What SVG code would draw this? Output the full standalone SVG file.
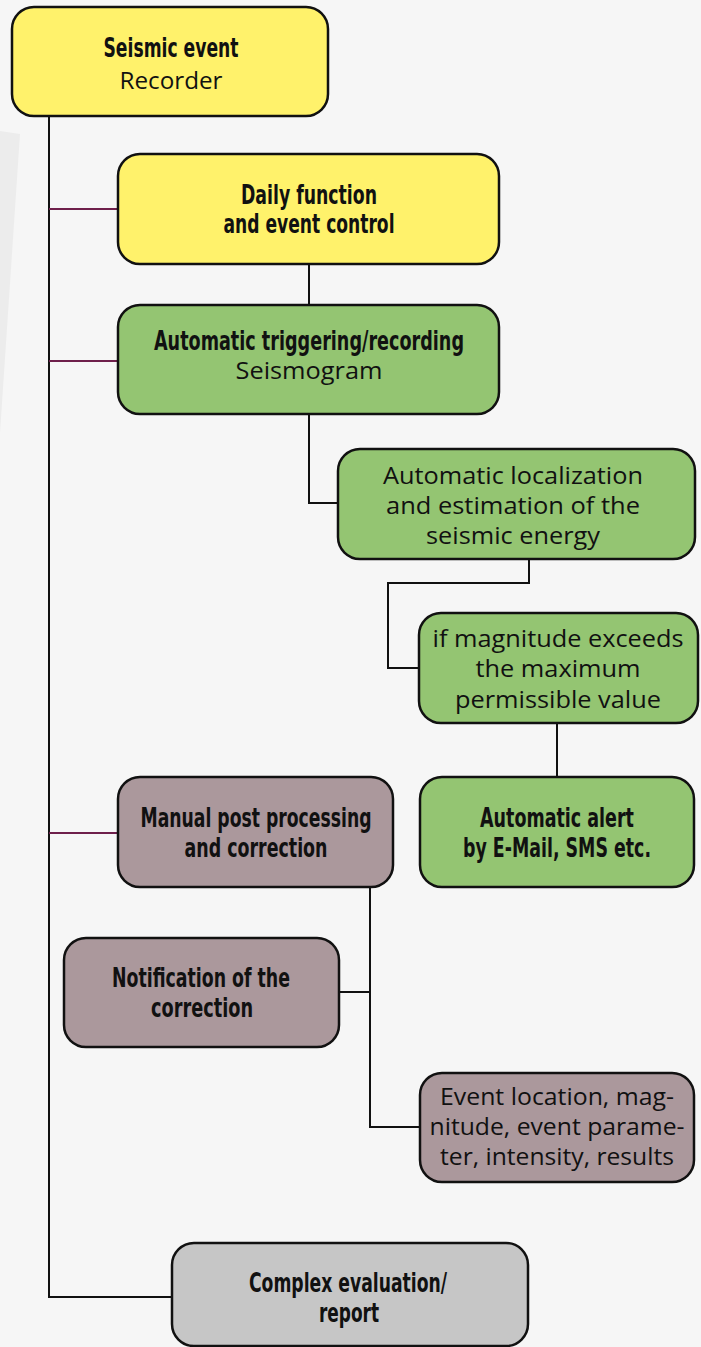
<svg xmlns="http://www.w3.org/2000/svg" width="701" height="1347" viewBox="0 0 701 1347">
<style>
.box{stroke:#111;stroke-width:2.5}
.y{fill:#fff26b}.g{fill:#94c572}.m{fill:#ab989c}.s{fill:#c6c6c6}
.b{font-family:"DejaVu Sans Condensed","DejaVu Sans",sans-serif;font-stretch:condensed;font-weight:bold;font-size:26px;fill:#111;text-anchor:middle}
.r{font-family:"Open Sans","DejaVu Sans",sans-serif;font-size:24px;fill:#111;text-anchor:middle}
.c{fill:none;stroke:#111;stroke-width:2}
.p{fill:none;stroke:#6e1f4b;stroke-width:2}
</style>
<rect width="701" height="1347" fill="#f6f6f6"/>
<polygon points="0,131 20,134 0,433" fill="#ececec"/>
<g id="connectors">
<path class="c" d="M49,117 V1297 H172"/>
<path class="p" d="M49,209 H118"/>
<path class="p" d="M49,361 H118"/>
<path class="p" d="M49,833 H118"/>
<path class="c" d="M309,264 V305"/>
<path class="c" d="M309,414 V503 H338"/>
<path class="c" d="M529,559 V583 H388 V668 H419"/>
<path class="c" d="M557,723 V777"/>
<path class="c" d="M370,887 V1127 H420"/>
<path class="c" d="M339,992 H370"/>
</g>
<g id="n1"><rect class="box y" x="12" y="7" width="316" height="109" rx="22"/>
<text class="b" x="171" y="57" textLength="135" lengthAdjust="spacingAndGlyphs">Seismic event</text>
<text class="r" x="171" y="89" textLength="103" lengthAdjust="spacingAndGlyphs">Recorder</text></g>
<g id="n2"><rect class="box y" x="118" y="154" width="381" height="110" rx="22"/>
<text class="b" x="309" y="204" textLength="136" lengthAdjust="spacingAndGlyphs">Daily function</text>
<text class="b" x="309" y="233" textLength="171" lengthAdjust="spacingAndGlyphs">and event control</text></g>
<g id="n3"><rect class="box g" x="118" y="305" width="381" height="109" rx="22"/>
<text class="b" x="309" y="350" textLength="310" lengthAdjust="spacingAndGlyphs">Automatic triggering/recording</text>
<text class="r" x="309" y="379" textLength="147" lengthAdjust="spacingAndGlyphs">Seismogram</text></g>
<g id="n4"><rect class="box g" x="338" y="449" width="357" height="110" rx="22"/>
<text class="r" x="513" y="484" textLength="260" lengthAdjust="spacingAndGlyphs">Automatic localization</text>
<text class="r" x="513" y="514" textLength="254" lengthAdjust="spacingAndGlyphs">and estimation of the</text>
<text class="r" x="513" y="544" textLength="174" lengthAdjust="spacingAndGlyphs">seismic energy</text></g>
<g id="n5"><rect class="box g" x="419" y="613" width="279" height="110" rx="22"/>
<text class="r" x="558" y="647" textLength="251" lengthAdjust="spacingAndGlyphs">if magnitude exceeds</text>
<text class="r" x="558" y="677" textLength="165" lengthAdjust="spacingAndGlyphs">the maximum</text>
<text class="r" x="558" y="708" textLength="206" lengthAdjust="spacingAndGlyphs">permissible value</text></g>
<g id="n6"><rect class="box g" x="420" y="777" width="274" height="110" rx="22"/>
<text class="b" x="557" y="827" textLength="154" lengthAdjust="spacingAndGlyphs">Automatic alert</text>
<text class="b" x="557" y="857" textLength="188" lengthAdjust="spacingAndGlyphs">by E-Mail, SMS etc.</text></g>
<g id="n7"><rect class="box m" x="118" y="777" width="275" height="110" rx="22"/>
<text class="b" x="256" y="827" textLength="231" lengthAdjust="spacingAndGlyphs">Manual post processing</text>
<text class="b" x="256" y="857" textLength="143" lengthAdjust="spacingAndGlyphs">and correction</text></g>
<g id="n8"><rect class="box m" x="64" y="938" width="275" height="109" rx="22"/>
<text class="b" x="201" y="987" textLength="178" lengthAdjust="spacingAndGlyphs">Notification of the</text>
<text class="b" x="202" y="1017" textLength="102" lengthAdjust="spacingAndGlyphs">correction</text></g>
<g id="n9"><rect class="box m" x="420" y="1073" width="274" height="109" rx="22"/>
<text class="r" x="557" y="1105" textLength="234" lengthAdjust="spacingAndGlyphs">Event location, mag-</text>
<text class="r" x="557" y="1135" textLength="255" lengthAdjust="spacingAndGlyphs">nitude, event parame-</text>
<text class="r" x="557" y="1165" textLength="234" lengthAdjust="spacingAndGlyphs">ter, intensity, results</text></g>
<g id="n10"><rect class="box s" x="172" y="1243" width="356" height="103" rx="22"/>
<text class="b" x="348" y="1292" textLength="198" lengthAdjust="spacingAndGlyphs">Complex evaluation/</text>
<text class="b" x="349" y="1322" textLength="60" lengthAdjust="spacingAndGlyphs">report</text></g>
</svg>
